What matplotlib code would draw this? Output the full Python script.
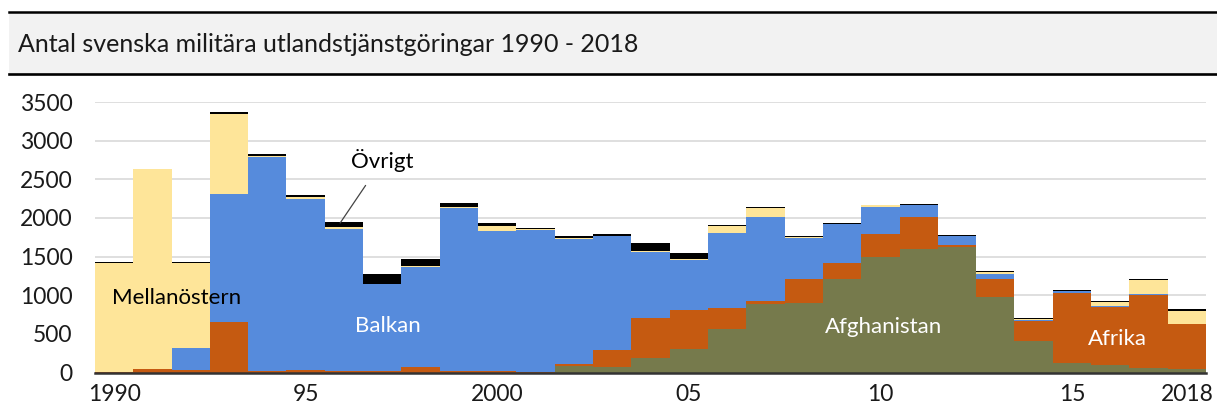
import numpy as np
import matplotlib.pyplot as plt
from matplotlib.patches import Rectangle
from matplotlib.lines import Line2D

plt.rcParams['font.family'] = ['Lato', 'DejaVu Sans']

# Data, stacked bottom -> top
years = list(range(1990, 2019))
afghanistan = [0, 0, 0, 0, 0, 0, 0, 0, 0, 0, 0, 0, 85, 78, 186, 303, 563, 883, 905, 1204,
               1498, 1602, 1624, 979, 407, 117, 95, 65, 43]
afrika = [5, 50, 35, 658, 17, 30, 17, 15, 70, 20, 15, 8, 27, 208, 515, 511, 277, 48, 299, 212,
          290, 416, 21, 225, 264, 918, 758, 935, 581]
balkan = [0, 0, 277, 1650, 2767, 2217, 1845, 1128, 1290, 2106, 1821, 1837, 1620, 1476, 862, 636,
          961, 1078, 537, 507, 360, 156, 117, 65, 15, 15, 5, 10, 0]
mellanostern = [1410, 2580, 1108, 1040, 20, 20, 20, 0, 20, 15, 55, 10, 15, 0, 13, 15, 95, 120, 12,
                0, 15, 0, 5, 30, 5, 5, 50, 190, 178]
ovrigt = [10, 10, 10, 20, 20, 30, 70, 130, 95, 55, 40, 20, 20, 25, 95, 78, 10, 10, 20, 15, 10,
          12, 15, 15, 15, 15, 15, 15, 15]

series = [afghanistan, afrika, balkan, mellanostern, ovrigt]
colors = ['#767a4c', '#c55a11', '#568bdc', '#fee599', '#000000']

tick_years = [1990, 1995, 2000, 2005, 2010, 2015, 2018]
tick_labels = ['1990', '95', '2000', '05', '10', '15', '2018']

fig = plt.figure(figsize=(12.17, 4.2), dpi=100)

# title band
x0 = 9 / 1217
fig.patches.append(Rectangle((x0, 0.8245), 1 - x0, 0.1465, transform=fig.transFigure,
                             facecolor='#f2f2f2', edgecolor='none', zorder=0))
fig.lines.append(Line2D([x0, 1], [0.971, 0.971], transform=fig.transFigure, color='black', lw=1.8))
fig.lines.append(Line2D([x0, 1], [0.8245, 0.8245], transform=fig.transFigure, color='black', lw=1.9))
fig.text(18 / 1217, 0.876, 'Antal svenska militära utlandstjänstgöringar 1990 - 2018',
         fontsize=18, va='baseline', ha='left', color='#1a1a1a')

ax = fig.add_axes([0.078, 0.113, 0.913, 0.644])

bottom = np.zeros(len(years))
for vals, c in zip(series, colors):
    ax.bar(years, vals, width=1.0, bottom=bottom, color=c, linewidth=0, zorder=2)
    bottom += np.array(vals)

ax.set_xlim(1989.5, 2018.5)
ax.set_ylim(0, 3500)
ax.set_yticks(range(0, 3501, 500))
ax.set_xticks(tick_years)
ax.set_xticklabels(tick_labels)
ax.tick_params(axis='both', length=0, labelsize=16.5, colors='#1a1a1a')
ax.tick_params(axis='y', pad=16)
ax.tick_params(axis='x', pad=8)
ax.grid(axis='y', color='#d9d9d9', lw=1.2, zorder=0)
for s in ['top', 'right', 'left']:
    ax.spines[s].set_visible(False)
ax.spines['bottom'].set_color('#333333')
ax.spines['bottom'].set_linewidth(1.8)
ax.spines['bottom'].set_zorder(3)

# series labels
ax.text(1989.94, 967, 'Mellanöstern', fontsize=16, va='center', ha='left', color='black', zorder=4)
ax.text(1996.29, 604, 'Balkan', fontsize=16, va='center', ha='left', color='white', zorder=4)
ax.text(2008.55, 590, 'Afghanistan', fontsize=16, va='center', ha='left', color='white', zorder=4)
ax.text(2015.42, 435, 'Afrika', fontsize=16, va='center', ha='left', color='white', zorder=4)
ax.annotate('Övrigt', xy=(1995.9, 1935), xytext=(1997.0, 2740), fontsize=16,
            ha='center', va='center', color='black', zorder=4,
            arrowprops=dict(arrowstyle='-', color='#444444', lw=0.9, shrinkA=9, shrinkB=0))

fig.savefig('out.png', dpi=100)
